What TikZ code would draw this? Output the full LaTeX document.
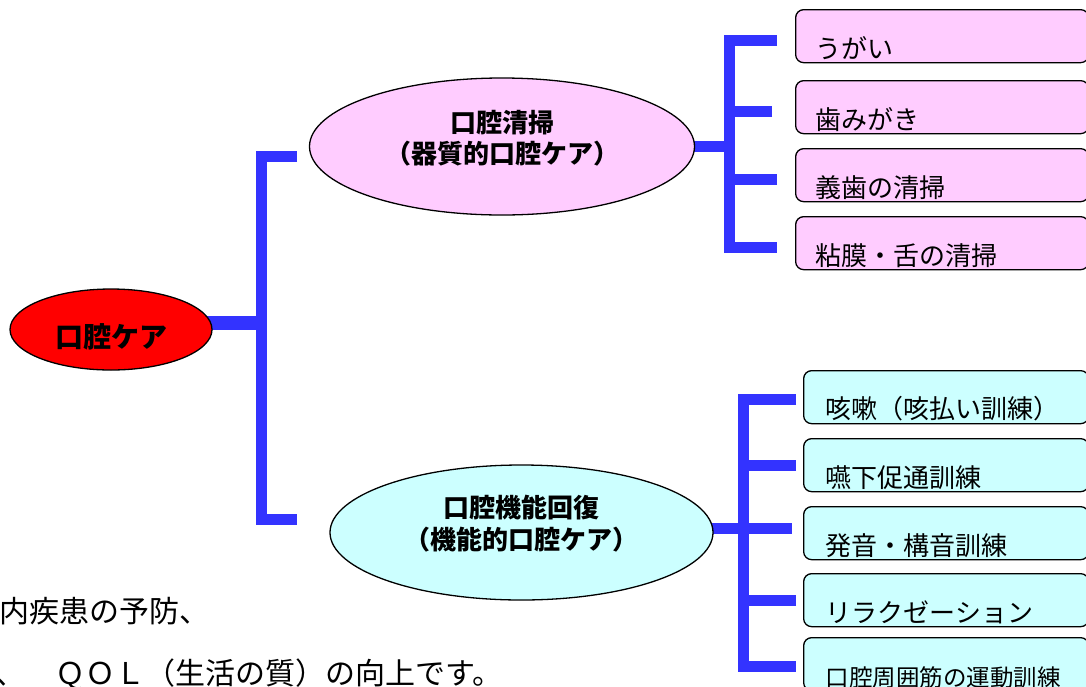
\documentclass[tikz,border=0pt]{standalone}
\usepackage{fontspec}
\setmainfont{Noto Sans CJK JP}
\usetikzlibrary{shapes.geometric}
\definecolor{pinkf}{HTML}{FFCCFF}
\definecolor{cyanf}{HTML}{CCFFFF}
\definecolor{barblue}{HTML}{3333FF}
\pgfdeclarelayer{bg}
\pgfsetlayers{bg,main}
\begin{document}
\begin{tikzpicture}[x=1pt,y=-1pt,
  ell/.style={ellipse,draw=black,line width=1.3pt,inner sep=0pt,align=center,font=\fontsize{26}{31}\selectfont\bfseries},
  pitem/.style={rectangle,rounded corners=8pt,draw=black,line width=1.3pt,fill=pinkf,anchor=north west,minimum height=53pt,inner xsep=20pt,inner ysep=0pt,text width=253pt,align=left,font=\fontsize{26}{31}\selectfont},
  citem/.style={rectangle,rounded corners=8pt,draw=black,line width=1.3pt,fill=cyanf,anchor=north west,minimum height=53pt,inner xsep=22pt,inner ysep=0pt,text width=241pt,align=left,font=\fontsize{26}{31}\selectfont},
  conn/.style={draw=barblue,line width=11pt},
  note/.style={anchor=base west,inner sep=0pt,font=\fontsize{30}{34}\selectfont}]
\useasboundingbox (0,0) rectangle (1086,686);

% main nodes
\node[ell,fill=red,minimum width=202pt,minimum height=81pt,font=\fontsize{28}{32}\selectfont\bfseries] (care) at (111,329.5) {\rule{0pt}{39pt}口腔ケア};
\node[ell,fill=pinkf,minimum width=385pt,minimum height=137pt] (clean) at (502,146.5) {口腔清掃\\（器質的口腔ケア）\rule[-20pt]{0pt}{1pt}};
\node[ell,fill=cyanf,minimum width=383pt,minimum height=135pt,font=\fontsize{26}{32}\selectfont\bfseries] (func) at (521.5,532.5) {口腔機能回復\\（機能的口腔ケア）\rule[-20pt]{0pt}{1pt}};

% pink items
\node[pitem] (p1) at (795,9) {\rule{0pt}{46pt}うがい};
\node[pitem] (p2) at (795,80) {\rule{0pt}{46pt}歯みがき};
\node[pitem] (p3) at (795,148) {\rule{0pt}{46pt}義歯の清掃};
\node[pitem] (p4) at (795,216) {\rule{0pt}{46pt}粘膜・舌の清掃};

% cyan items
\node[citem] (c1) at (803,370) {\rule{0pt}{46pt}咳嗽（咳払い訓練）};
\node[citem] (c2) at (803,438) {\rule{0pt}{46pt}嚥下促通訓練};
\node[citem] (c3) at (803,506) {\rule{0pt}{46pt}発音・構音訓練};
\node[citem] (c4) at (803,573) {\rule{0pt}{46pt}リラクゼーション};
\node[citem,font=\fontsize{23.5}{28}\selectfont] (c5) at (803,637) {\rule{0pt}{46pt}口腔周囲筋の運動訓練};

% cut-off body text
\node[note] (n1) at (-1,622) {内疾患の予防、};
\node[note] (n2) at (-5,684) {、\hspace{30pt}ＱＯＬ（生活の質）の向上です。};

% connectors
\coordinate (lbar) at (261,0);
\coordinate (lt) at (297,156);
\coordinate (lb) at (297,519);
\coordinate (rt) at (729,0);
\coordinate (rb) at (743,0);
\begin{pgfonlayer}{bg}
\draw[conn,line width=14pt] ([xshift=-6pt,yshift=7pt]care.east) -- ([yshift=7pt]care.east -| lbar);
\draw[conn] (lt) -- (lt -| lbar) -- (lb -| lbar) -- (lb);

\draw[conn] ([xshift=-6pt]clean.east) -- (clean.east -| rt);
\draw[conn] ([xshift=-18pt,yshift=-4pt]p1.west) -- ([yshift=-4pt]p1.west -| rt) -- ([yshift=-4pt]p4.west -| rt) -- ([xshift=-18pt,yshift=-4pt]p4.west);
\draw[conn] ([xshift=-23pt,yshift=-4pt]p2.west) -- ([yshift=-4pt]p2.west -| rt);
\draw[conn] ([xshift=-18pt,yshift=-4pt]p3.west) -- ([yshift=-4pt]p3.west -| rt);

\draw[conn] ([xshift=-6pt,yshift=4pt]func.east) -- ([xshift=-11pt,yshift=4pt]func.east -| c3.west);
\draw[conn] ([xshift=-7pt,yshift=-2pt]c1.west) -- ([yshift=-2pt]c1.west -| rb) -- ([yshift=-2pt]c5.west -| rb) -- ([xshift=-7pt,yshift=-2pt]c5.west);
\draw[conn] ([xshift=-7pt]c2.west) -- (c2.west -| rb);
\draw[conn] ([xshift=-7pt]c4.west) -- (c4.west -| rb);
\end{pgfonlayer}
\end{tikzpicture}
\end{document}
